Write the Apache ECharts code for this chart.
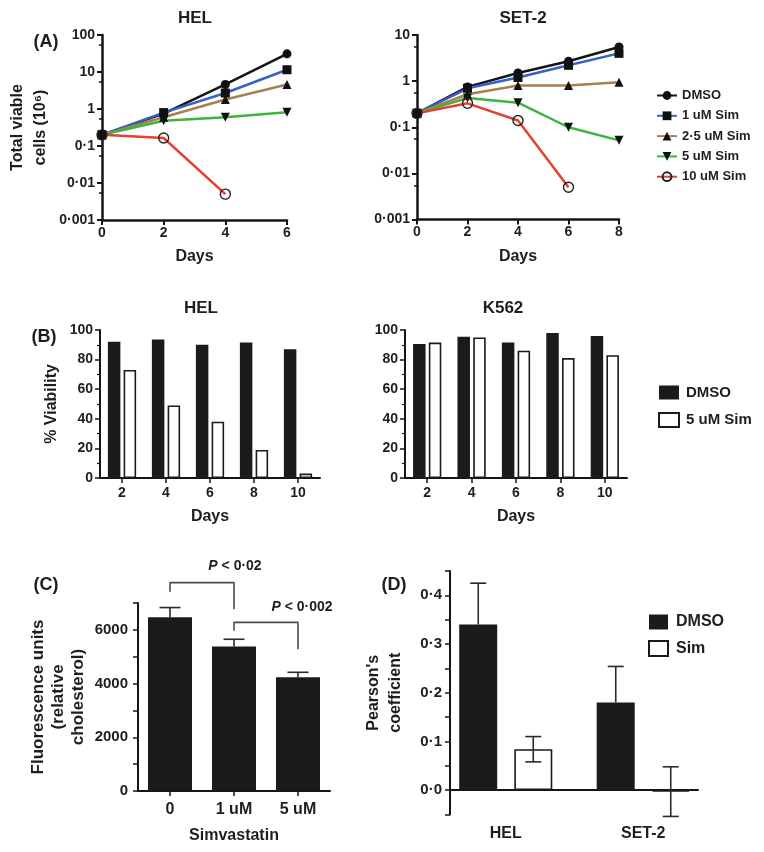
<!DOCTYPE html>
<html><head><meta charset="utf-8">
<script src="https://cdn.jsdelivr.net/npm/echarts@6/dist/echarts.min.js"></script>
<style>html,body{margin:0;padding:0;background:#fff}#c{width:764px;height:852px}</style>
</head><body><div id="c"></div>
<script>
// ---------- Panel A data (total viable cells, 10^6) ----------
const aHelDays = [0, 2, 4, 6];
const aSetDays = [0, 2, 4, 6, 8];
const aSeriesNames = ['DMSO', '1 uM Sim', '2·5 uM Sim', '5 uM Sim', '10 uM Sim'];
const aHelDMSO = [0.2, 0.75, 4.6, 31];
const aHel1uM  = [0.2, 0.8, 2.7, 11.5];
const aHel25uM = [0.2, 0.6, 1.8, 4.6];
const aHel5uM  = [0.2, 0.48, 0.6, 0.82];
const aHel10uM = [0.2, 0.165, 0.005, null];
const aSetDMSO = [0.2, 0.75, 1.5, 2.7, 5.5];
const aSet1uM  = [0.2, 0.7, 1.2, 2.2, 4.0];
const aSet25uM = [0.2, 0.52, 0.8, 0.8, 0.95];
const aSet5uM  = [0.2, 0.43, 0.34, 0.1, 0.052];
const aSet10uM = [0.2, 0.33, 0.14, 0.005, null];
const aHelTickLabels = ['0·001', '0·01', '0·1', '1', '10', '100'];
const aSetTickLabels = ['0·001', '0·01', '0·1', '1', '10'];

// ---------- Panel B data (% viability) ----------
const bDays = ['2', '4', '6', '8', '10'];
const bLegendNames = ['DMSO', '5 uM Sim'];
const bHelDMSO  = [92, 93.5, 90, 91.5, 87];
const bHelSim   = [73, 49, 38, 19, 3];
const bK562DMSO = [90.5, 95.5, 91.5, 98, 96];
const bK562Sim  = [91.5, 95, 86, 81, 83];

// ---------- Panel C data (fluorescence units) ----------
const cCategories = ['0', '1 uM', '5 uM'];
const cMeans = [6470, 5380, 4240];
const cErr = [360, 270, 180];
const cBracket1X = [0, 0, 1, 1];
const cBracket1Y = [7420, 7760, 7760, 6770];
const cBracket2X = [1, 1, 2, 2];
const cBracket2Y = [5970, 6280, 6280, 5280];
const cPLabels = ['P < 0·02', 'P < 0·002'];

// ---------- Panel D data (Pearson's coefficient) ----------
const dCategories = ['HEL', 'SET-2'];
const dLegendNames = ['DMSO', 'Sim'];
const dDMSO = [0.34, 0.18];
const dDMSOErr = [0.085, 0.074];
const dSim = [0.084, -0.003];
const dSimErr = [0.026, 0.051];

// ---------- styling ----------
const FONT = '"Liberation Sans", Arial, Helvetica, sans-serif';
const TXT = '#1e1e1e';
const AX = '#151515';
const BAR = '#1b1b1b';

const aStyles = [
  {line: '#151515', symbol: 'circle', size: 9, rot: 0},
  {line: '#3661c6', symbol: 'rect', size: 9, rot: 0},
  {line: '#a87f52', symbol: 'triangle', size: 9, rot: 0},
  {line: '#3cb53c', symbol: 'triangle', size: 9, rot: 180},
  {line: '#e8402e', symbol: 'circle', size: 10, rot: 0, open: true}
];

function lab(size, extra) {
  return Object.assign({fontFamily: FONT, fontWeight: 'bold', fontSize: size, color: TXT}, extra || {});
}
function axLine(w) { return {show: true, onZero: false, lineStyle: {color: AX, width: w}}; }
function axTick(len, w) { return {show: true, length: len, lineStyle: {color: AX, width: w}}; }

function lineSeries(name, days, vals, gi, st) {
  const data = [];
  days.forEach((d, i) => { if (vals[i] != null) data.push([d, vals[i]]); });
  return {
    type: 'line', name: name, xAxisIndex: gi, yAxisIndex: gi, data: data,
    symbol: st.symbol, symbolSize: st.size, symbolRotate: st.rot,
    lineStyle: {color: st.line, width: 2.5},
    itemStyle: st.open ? {color: 'rgba(255,255,255,0)', borderColor: '#222', borderWidth: 1.4}
                       : {color: '#111', borderColor: '#111', borderWidth: 0},
    emphasis: {disabled: true}, z: 3
  };
}

function errRender(offset, cap, both) {
  return function (params, api) {
    const x = api.value(0), m = api.value(1), e = api.value(2);
    const pt = api.coord([x, m + e]);
    const pb = both ? api.coord([x, m - e]) : api.coord([x, m]);
    const cx = pt[0] + offset;
    const st = {stroke: '#2a2a2a', lineWidth: 1.6};
    const ch = [
      {type: 'line', shape: {x1: cx, y1: pt[1], x2: cx, y2: pb[1]}, style: st},
      {type: 'line', shape: {x1: cx - cap, y1: pt[1], x2: cx + cap, y2: pt[1]}, style: st}
    ];
    if (both) ch.push({type: 'line', shape: {x1: cx - cap, y1: pb[1], x2: cx + cap, y2: pb[1]}, style: st});
    return {type: 'group', children: ch};
  };
}

const series = [];
const aHelVals = [aHelDMSO, aHel1uM, aHel25uM, aHel5uM, aHel10uM];
const aSetVals = [aSetDMSO, aSet1uM, aSet25uM, aSet5uM, aSet10uM];
aSeriesNames.forEach((n, i) => series.push(lineSeries(n, aHelDays, aHelVals[i], 0, aStyles[i])));
aSeriesNames.forEach((n, i) => series.push(lineSeries(n, aSetDays, aSetVals[i], 1, aStyles[i])));

const whiteBar = {color: '#fff', borderColor: '#1a1a1a', borderWidth: 1.6};
const blackBar = {color: BAR, borderColor: BAR, borderWidth: 0};
[[bHelDMSO, bHelSim, 2], [bK562DMSO, bK562Sim, 3]].forEach(([d, s, gi]) => {
  series.push({type: 'bar', name: 'B:' + bLegendNames[0], xAxisIndex: gi, yAxisIndex: gi, data: d,
    barWidth: 12.5, barGap: '26%', itemStyle: blackBar, emphasis: {disabled: true}});
  series.push({type: 'bar', name: 'B:' + bLegendNames[1], xAxisIndex: gi, yAxisIndex: gi, data: s,
    barWidth: 12.5, barGap: '26%', itemStyle: whiteBar, emphasis: {disabled: true}});
});

series.push({type: 'bar', name: 'C', xAxisIndex: 4, yAxisIndex: 4, data: cMeans, barWidth: 44,
  itemStyle: blackBar, emphasis: {disabled: true}});
series.push({type: 'custom', name: 'Cerr', xAxisIndex: 4, yAxisIndex: 4, z: 1,
  data: cMeans.map((m, i) => [i, m, cErr[i]]), renderItem: errRender(0, 10.5, false)});
[[cBracket1X, cBracket1Y], [cBracket2X, cBracket2Y]].forEach(([bx, by]) => {
  series.push({type: 'line', name: 'bracket', xAxisIndex: 4, yAxisIndex: 4, clip: false,
    data: bx.map((x, i) => [x, by[i]]), symbol: 'none', lineStyle: {color: '#4a4a4a', width: 1.6},
    emphasis: {disabled: true}, silent: true});
});

series.push({type: 'bar', name: 'D:' + dLegendNames[0], xAxisIndex: 6, yAxisIndex: 6, data: dDMSO,
  barWidth: 38, barGap: '45%', itemStyle: blackBar, emphasis: {disabled: true}});
series.push({type: 'bar', name: 'D:' + dLegendNames[1], xAxisIndex: 6, yAxisIndex: 6, data: dSim,
  barWidth: 38, barGap: '45%', itemStyle: whiteBar, emphasis: {disabled: true}});
series.push({type: 'custom', name: 'DerrA', xAxisIndex: 6, yAxisIndex: 6, z: 4,
  data: dDMSO.map((m, i) => [i, m, dDMSOErr[i]]), renderItem: errRender(-27.5, 8, false)});
series.push({type: 'custom', name: 'DerrB', xAxisIndex: 6, yAxisIndex: 6, z: 4,
  data: dSim.map((m, i) => [i, m, dSimErr[i]]), renderItem: errRender(27.5, 8, true)});

function tenthLabel(v) {
  const t = v * 10;
  if (Math.abs(t - Math.round(t)) > 1e-6) return '';
  return (Math.round(t) / 10).toFixed(1).replace('.', '·');
}

const option = {
  backgroundColor: '#fff',
  animation: false,
  grid: [
    {left: 102, top: 35, width: 185, height: 185},
    {left: 417, top: 35, width: 202, height: 184.5},
    {left: 100, top: 330, width: 220, height: 148},
    {left: 405, top: 330, width: 222, height: 148},
    {left: 138, top: 603, width: 192, height: 188},
    {left: 450, top: 571, width: 248, height: 243.5},
    {left: 437, top: 571, width: 275, height: 243.5}
  ],
  xAxis: [
    {gridIndex: 0, type: 'value', min: 0, max: 6, interval: 2, axisLine: axLine(2.5), axisTick: axTick(5, 2),
      axisLabel: lab(14, {margin: 6}), splitLine: {show: false},
      name: 'Days', nameLocation: 'middle', nameGap: 29, nameTextStyle: lab(16)},
    {gridIndex: 1, type: 'value', min: 0, max: 8, interval: 2, axisLine: axLine(2.5), axisTick: axTick(5, 2),
      axisLabel: lab(14, {margin: 6}), splitLine: {show: false},
      name: 'Days', nameLocation: 'middle', nameGap: 29, nameTextStyle: lab(16)},
    {gridIndex: 2, type: 'category', data: bDays, axisLine: axLine(2), axisTick: Object.assign(axTick(5, 1.5), {alignWithLabel: true}),
      axisLabel: lab(14, {margin: 8}), name: 'Days', nameLocation: 'middle', nameGap: 31, nameTextStyle: lab(16)},
    {gridIndex: 3, type: 'category', data: bDays, axisLine: axLine(2), axisTick: Object.assign(axTick(5, 1.5), {alignWithLabel: true}),
      axisLabel: lab(14, {margin: 8}), name: 'Days', nameLocation: 'middle', nameGap: 31, nameTextStyle: lab(16)},
    {gridIndex: 4, type: 'category', data: cCategories, axisLine: axLine(2), axisTick: Object.assign(axTick(5, 1.5), {alignWithLabel: true}),
      axisLabel: lab(16, {margin: 11}), name: 'Simvastatin', nameLocation: 'middle', nameGap: 37, nameTextStyle: lab(16)},
    {gridIndex: 5, type: 'value', min: 0, max: 1, axisLine: {show: true, onZero: true, lineStyle: {color: AX, width: 2}},
      axisTick: {show: false}, axisLabel: {show: false}, splitLine: {show: false}},
    {gridIndex: 6, type: 'category', data: dCategories, axisLine: {show: false}, axisTick: {show: false},
      axisLabel: lab(16, {margin: 11})}
  ],
  yAxis: [
    {gridIndex: 0, type: 'log', logBase: 10, min: 0.001, max: 100, axisLine: axLine(2.5), axisTick: axTick(5, 2),
      minorTick: {show: true, splitNumber: 2, length: 3, lineStyle: {color: AX, width: 1.5}},
      axisLabel: lab(14, {margin: 7, formatter: v => aHelTickLabels[Math.round(Math.log10(v)) + 3]}),
      splitLine: {show: false}, minorSplitLine: {show: false},
      name: 'Total viable\ncells (10⁶)', nameLocation: 'middle', nameGap: 50, nameTextStyle: lab(16, {lineHeight: 23})},
    {gridIndex: 1, type: 'log', logBase: 10, min: 0.001, max: 10, axisLine: axLine(2.5), axisTick: axTick(5, 2),
      minorTick: {show: true, splitNumber: 2, length: 3, lineStyle: {color: AX, width: 1.5}},
      axisLabel: lab(14, {margin: 7, formatter: v => aSetTickLabels[Math.round(Math.log10(v)) + 3]}),
      splitLine: {show: false}, minorSplitLine: {show: false}},
    {gridIndex: 2, type: 'value', min: 0, max: 100, interval: 20, axisLine: axLine(2), axisTick: axTick(5, 1.5),
      minorTick: {show: true, splitNumber: 2, length: 3, lineStyle: {color: AX, width: 1.2}},
      axisLabel: lab(14, {margin: 7}), splitLine: {show: false},
      name: '% Viability', nameLocation: 'middle', nameGap: 40, nameTextStyle: lab(16)},
    {gridIndex: 3, type: 'value', min: 0, max: 100, interval: 20, axisLine: axLine(2), axisTick: axTick(5, 1.5),
      minorTick: {show: true, splitNumber: 2, length: 3, lineStyle: {color: AX, width: 1.2}},
      axisLabel: lab(14, {margin: 7}), splitLine: {show: false}},
    {gridIndex: 4, type: 'value', min: 0, max: 7000, interval: 1000, axisLine: axLine(2), axisTick: axTick(5, 1.5),
      axisLabel: lab(15, {margin: 10, formatter: v => (v % 2000 === 0 ? String(v) : '')}), splitLine: {show: false},
      name: 'Fluorescence units\n(relative\ncholesterol)', nameLocation: 'middle', nameGap: 50,
      nameTextStyle: lab(17, {lineHeight: 20})},
    {gridIndex: 5, type: 'value', min: -0.05, max: 0.45, interval: 0.05, axisLine: axLine(2), axisTick: axTick(5, 1.5),
      axisLabel: lab(15, {margin: 8, formatter: tenthLabel}), splitLine: {show: false},
      name: "Pearson's\ncoefficient", nameLocation: 'middle', nameGap: 43, nameTextStyle: lab(16, {lineHeight: 22})},
    {gridIndex: 6, type: 'value', min: -0.05, max: 0.45, interval: 0.05, show: false}
  ],
  legend: [
    {data: aSeriesNames, orient: 'vertical', left: 656, top: 89, padding: 0, itemWidth: 20, itemHeight: 11,
      itemGap: 7.3, textStyle: lab(13), selectedMode: false},
    {data: bLegendNames.map(n => 'B:' + n), orient: 'vertical', left: 658, top: 385, padding: 0, itemWidth: 20,
      itemHeight: 14, itemGap: 12, icon: 'rect', textStyle: lab(15, {padding: [0, 0, 0, 2]}), selectedMode: false,
      formatter: n => n.slice(2)},
    {data: dLegendNames.map(n => 'D:' + n), orient: 'vertical', left: 648, top: 614, padding: 0, itemWidth: 19,
      itemHeight: 15, itemGap: 10, icon: 'rect', textStyle: lab(16, {padding: [0, 0, 0, 3]}), selectedMode: false,
      formatter: n => n.slice(2)}
  ],
  series: series
};

function gtext(x, y, text, size, rich) {
  const st = {text: text, fontFamily: FONT, fontWeight: 'bold', fontSize: size, fill: TXT,
    align: 'center', verticalAlign: 'middle'};
  if (rich) st.rich = rich;
  return {type: 'text', x: x, y: y, style: st, silent: true};
}
const richP = {i: {fontStyle: 'italic', fontWeight: 'bold', fontFamily: FONT, fontSize: 14, fill: TXT}};
option.graphic = [
  gtext(195, 18, 'HEL', 17), gtext(523, 18, 'SET-2', 17), gtext(46, 42, '(A)', 18),
  gtext(201, 308, 'HEL', 17), gtext(503, 308, 'K562', 17), gtext(44, 337, '(B)', 18),
  gtext(46, 585, '(C)', 18), gtext(394, 585, '(D)', 18),
  gtext(235, 566, cPLabels[0].replace('P', '{i|P}'), 14, richP),
  gtext(302, 607, cPLabels[1].replace('P', '{i|P}'), 14, richP)
];

const chart = echarts.init(document.getElementById('c'), null, {renderer: 'canvas'});
chart.setOption(option);
</script></body></html>
